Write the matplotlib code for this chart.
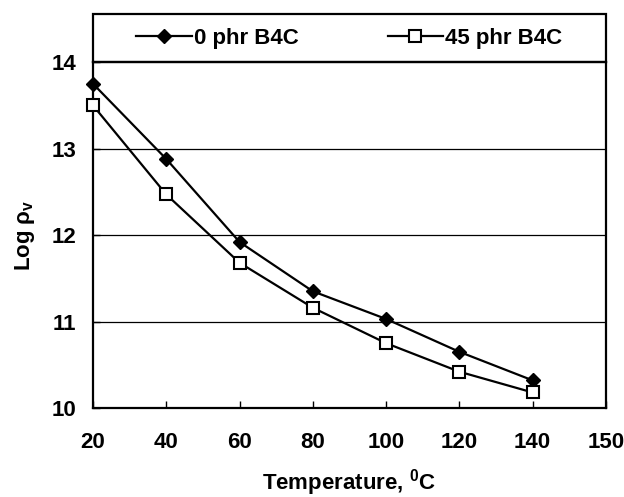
import numpy as np
import matplotlib
matplotlib.use("Agg")
import matplotlib.pyplot as plt
from matplotlib.patches import Rectangle

# data
temps = ["20", "40", "60", "80", "100", "120", "140", "150"]
log_rho_0 = [13.75, 12.88, 11.92, 11.35, 11.03, 10.65, 10.32]
log_rho_45 = [13.50, 12.47, 11.68, 11.16, 10.75, 10.42, 10.18]
labels = ["0 phr B4C", "45 phr B4C"]

plt.rcParams['font.family'] = ['Liberation Sans', 'DejaVu Sans']
plt.rcParams['font.weight'] = 'bold'
plt.rcParams['mathtext.fontset'] = 'custom'
plt.rcParams['mathtext.rm'] = 'Liberation Sans:bold'
plt.rcParams['mathtext.bf'] = 'Liberation Sans:bold'
plt.rcParams['mathtext.it'] = 'Liberation Sans:bold'

fig = plt.figure(figsize=(6.24, 4.97), dpi=100)
ax = fig.add_axes([0.149, 0.179, 0.822, 0.696])

x = np.arange(len(log_rho_0))
ax.plot(x, log_rho_0, color='black', lw=1.6, marker='D', ms=7.2,
        mfc='black', mec='black', label=labels[0], clip_on=False, zorder=3)
ax.plot(x, log_rho_45, color='black', lw=1.6, marker='s', ms=9,
        mfc='white', mec='black', mew=1.5, label=labels[1], clip_on=False, zorder=3)

ax.set_xlim(0, len(temps) - 1)
ax.set_ylim(10, 14)
ax.set_xticks(np.arange(len(temps)))
ax.set_xticklabels(temps)
ax.set_yticks([10, 11, 12, 13, 14])
ax.tick_params(direction='in', length=5, width=1, labelsize=16)
ax.tick_params(axis='x', pad=17)
ax.tick_params(axis='y', pad=12)
for yv in [11, 12, 13]:
    ax.axhline(yv, color='black', lw=0.9, zorder=1)
for s in ax.spines.values():
    s.set_linewidth(1.6)

ax.set_xlabel("Temperature, $^{0}$C", fontsize=16, fontweight='bold')
ax.set_ylabel(r"Log $\rho_{v}$", fontsize=16, fontweight='bold')
ax.xaxis.set_label_coords(0.5, -0.17)
ax.yaxis.set_label_coords(-0.11, 0.5)

# legend box sitting on top of the plot area
box_h = 48 / 346
ax.add_patch(Rectangle((0, 1), 1, box_h, transform=ax.transAxes, fill=False,
                       edgecolor='black', lw=1.6, clip_on=False))
ax.legend(loc='center', bbox_to_anchor=(0, 1, 1, box_h), ncol=2, frameon=False,
          fontsize=16, handlelength=2.5, handletextpad=0.1, columnspacing=4,
          numpoints=1, borderaxespad=0)

fig.savefig("out.png", dpi=100)
